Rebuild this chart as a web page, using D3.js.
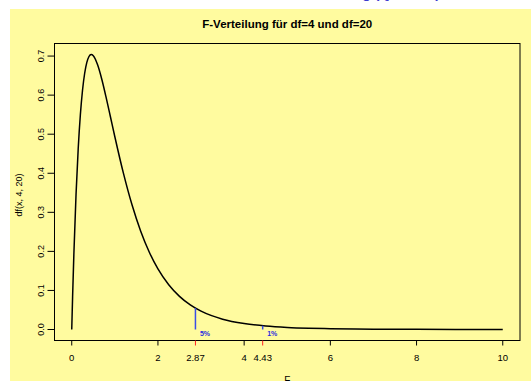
<!DOCTYPE html>
<html>
<head>
<meta charset="utf-8">
<script src="https://cdn.jsdelivr.net/npm/d3@7"></script>
<style>
  body { margin: 0; background: #fff; }
  svg { display: block; font-family: "Liberation Sans", Arial, sans-serif; }
</style>
</head>
<body>
<div id="chart"></div>
<script>
// density values
const xs = [0, 0.02, 0.05, 0.1, 0.15, 0.2, 0.25, 0.3, 0.35, 0.4, 0.45, 0.5, 0.6, 0.7, 0.8, 0.9, 1.0,
  1.2, 1.4, 1.6, 1.8, 2.0, 2.25, 2.5, 2.75, 3.0, 3.5, 4.0, 4.5, 5.0, 5.5, 6.0, 7.0, 8.0, 9.0, 10.0];
const ys = [0, 0.0839, 0.1953, 0.3469, 0.4629, 0.5496, 0.6125, 0.6560, 0.6838, 0.6989, 0.7040, 0.7010,
  0.6776, 0.6394, 0.5930, 0.5434, 0.4935, 0.3996, 0.3185, 0.2516, 0.1978, 0.1552, 0.1146, 0.0848,
  0.0629, 0.0469, 0.0264, 0.0152, 0.00895, 0.00537, 0.00329, 0.00205, 0.00084, 0.00037, 0.00017, 0.00008];

// critical values (5% and 1%) and density there
const critX = [2.87, 4.43];
const critY = [0.0546, 0.0096];
const critLabels = ['5%', '1%'];

const xTicks = [0, 2, 4, 6, 8, 10];
const yTicks = [0, 0.1, 0.2, 0.3, 0.4, 0.5, 0.6, 0.7];

const W = 531, H = 381;
const box = { left: 54.5, right: 520, top: 43.5, bottom: 340.5 };

const x = d3.scaleLinear().domain([-0.4, 10.4]).range([box.left, box.right]);
const y = d3.scaleLinear().domain([-0.02816, 0.73216]).range([box.bottom, box.top]);

const svg = d3.select('#chart').append('svg')
  .attr('width', W).attr('height', H);

// yellow panel
svg.append('rect').attr('x', 10).attr('y', 9).attr('width', W - 10).attr('height', H - 9)
  .attr('fill', '#fffb9f');

// blue heading, mostly above the top edge
svg.append('text').attr('x', 440).attr('y', -2).attr('text-anchor', 'end')
  .style('font-size', '14px').style('font-weight', 'bold').attr('fill', '#3b3bd0')
  .text('F-Verteilung (Quantile)');

svg.append('text').attr('x', (box.left + box.right) / 2).attr('y', 27.5)
  .attr('text-anchor', 'middle').style('font-size', '11.5px').style('font-weight', 'bold')
  .text('F-Verteilung für df=4 und df=20');

// plot box
svg.append('rect').attr('x', box.left).attr('y', box.top)
  .attr('width', box.right - box.left).attr('height', box.bottom - box.top)
  .attr('fill', 'none').attr('stroke', '#000').attr('stroke-width', 1);

// x axis
const xAxis = svg.append('g').attr('transform', `translate(0,${box.bottom})`);
xAxis.append('line').attr('x1', x(0)).attr('x2', x(10)).attr('stroke', '#000');
const allX = xTicks.concat(critX);
xAxis.selectAll('line.tick').data(allX).join('line').attr('class', 'tick')
  .attr('x1', d => x(d)).attr('x2', d => x(d)).attr('y1', 0).attr('y2', 5)
  .attr('stroke', d => critX.includes(d) ? '#ff2020' : '#000');
xAxis.selectAll('text').data(allX).join('text')
  .attr('x', d => x(d)).attr('y', 20.5).attr('text-anchor', 'middle')
  .style('font-size', '9.5px').text(d => d);

svg.append('text').attr('x', (box.left + box.right) / 2).attr('y', 384)
  .attr('text-anchor', 'middle').style('font-size', '10px').text('F');

// y axis
const yAxis = svg.append('g');
yAxis.append('line').attr('x1', box.left).attr('x2', box.left)
  .attr('y1', y(0)).attr('y2', y(0.7)).attr('stroke', '#000');
yAxis.selectAll('line.tick').data(yTicks).join('line').attr('class', 'tick')
  .attr('x1', box.left - 7).attr('x2', box.left).attr('y1', d => y(d)).attr('y2', d => y(d))
  .attr('stroke', '#000');
yAxis.selectAll('text').data(yTicks).join('text')
  .attr('transform', d => `translate(44,${y(d)}) rotate(-90)`)
  .attr('text-anchor', 'middle').style('font-size', '9px')
  .text(d => d3.format('.1f')(d));

svg.append('text').attr('transform', `translate(22,${(box.top + box.bottom) / 2 + 3}) rotate(-90)`)
  .attr('text-anchor', 'middle').style('font-size', '9px').text('df(x, 4, 20)');

// density curve
const pts = xs.map((d, i) => [d, ys[i]]);
svg.append('path').datum(pts)
  .attr('fill', 'none').attr('stroke', '#000').attr('stroke-width', 1.5)
  .attr('d', d3.line().x(d => x(d[0])).y(d => y(d[1])).curve(d3.curveMonotoneX));

// critical value markers
const crit = svg.append('g');
crit.selectAll('line').data(critX).join('line')
  .attr('x1', d => x(d)).attr('x2', d => x(d))
  .attr('y1', y(0)).attr('y2', (d, i) => y(critY[i]))
  .attr('stroke', '#3a4ee6').attr('stroke-width', 1.5);
crit.selectAll('text').data(critX).join('text')
  .attr('x', d => x(d) + 4.5).attr('y', 335.5)
  .style('font-size', '7px').style('font-weight', 'bold').attr('fill', '#2a2ae0')
  .text((d, i) => critLabels[i]);
</script>
</body>
</html>
